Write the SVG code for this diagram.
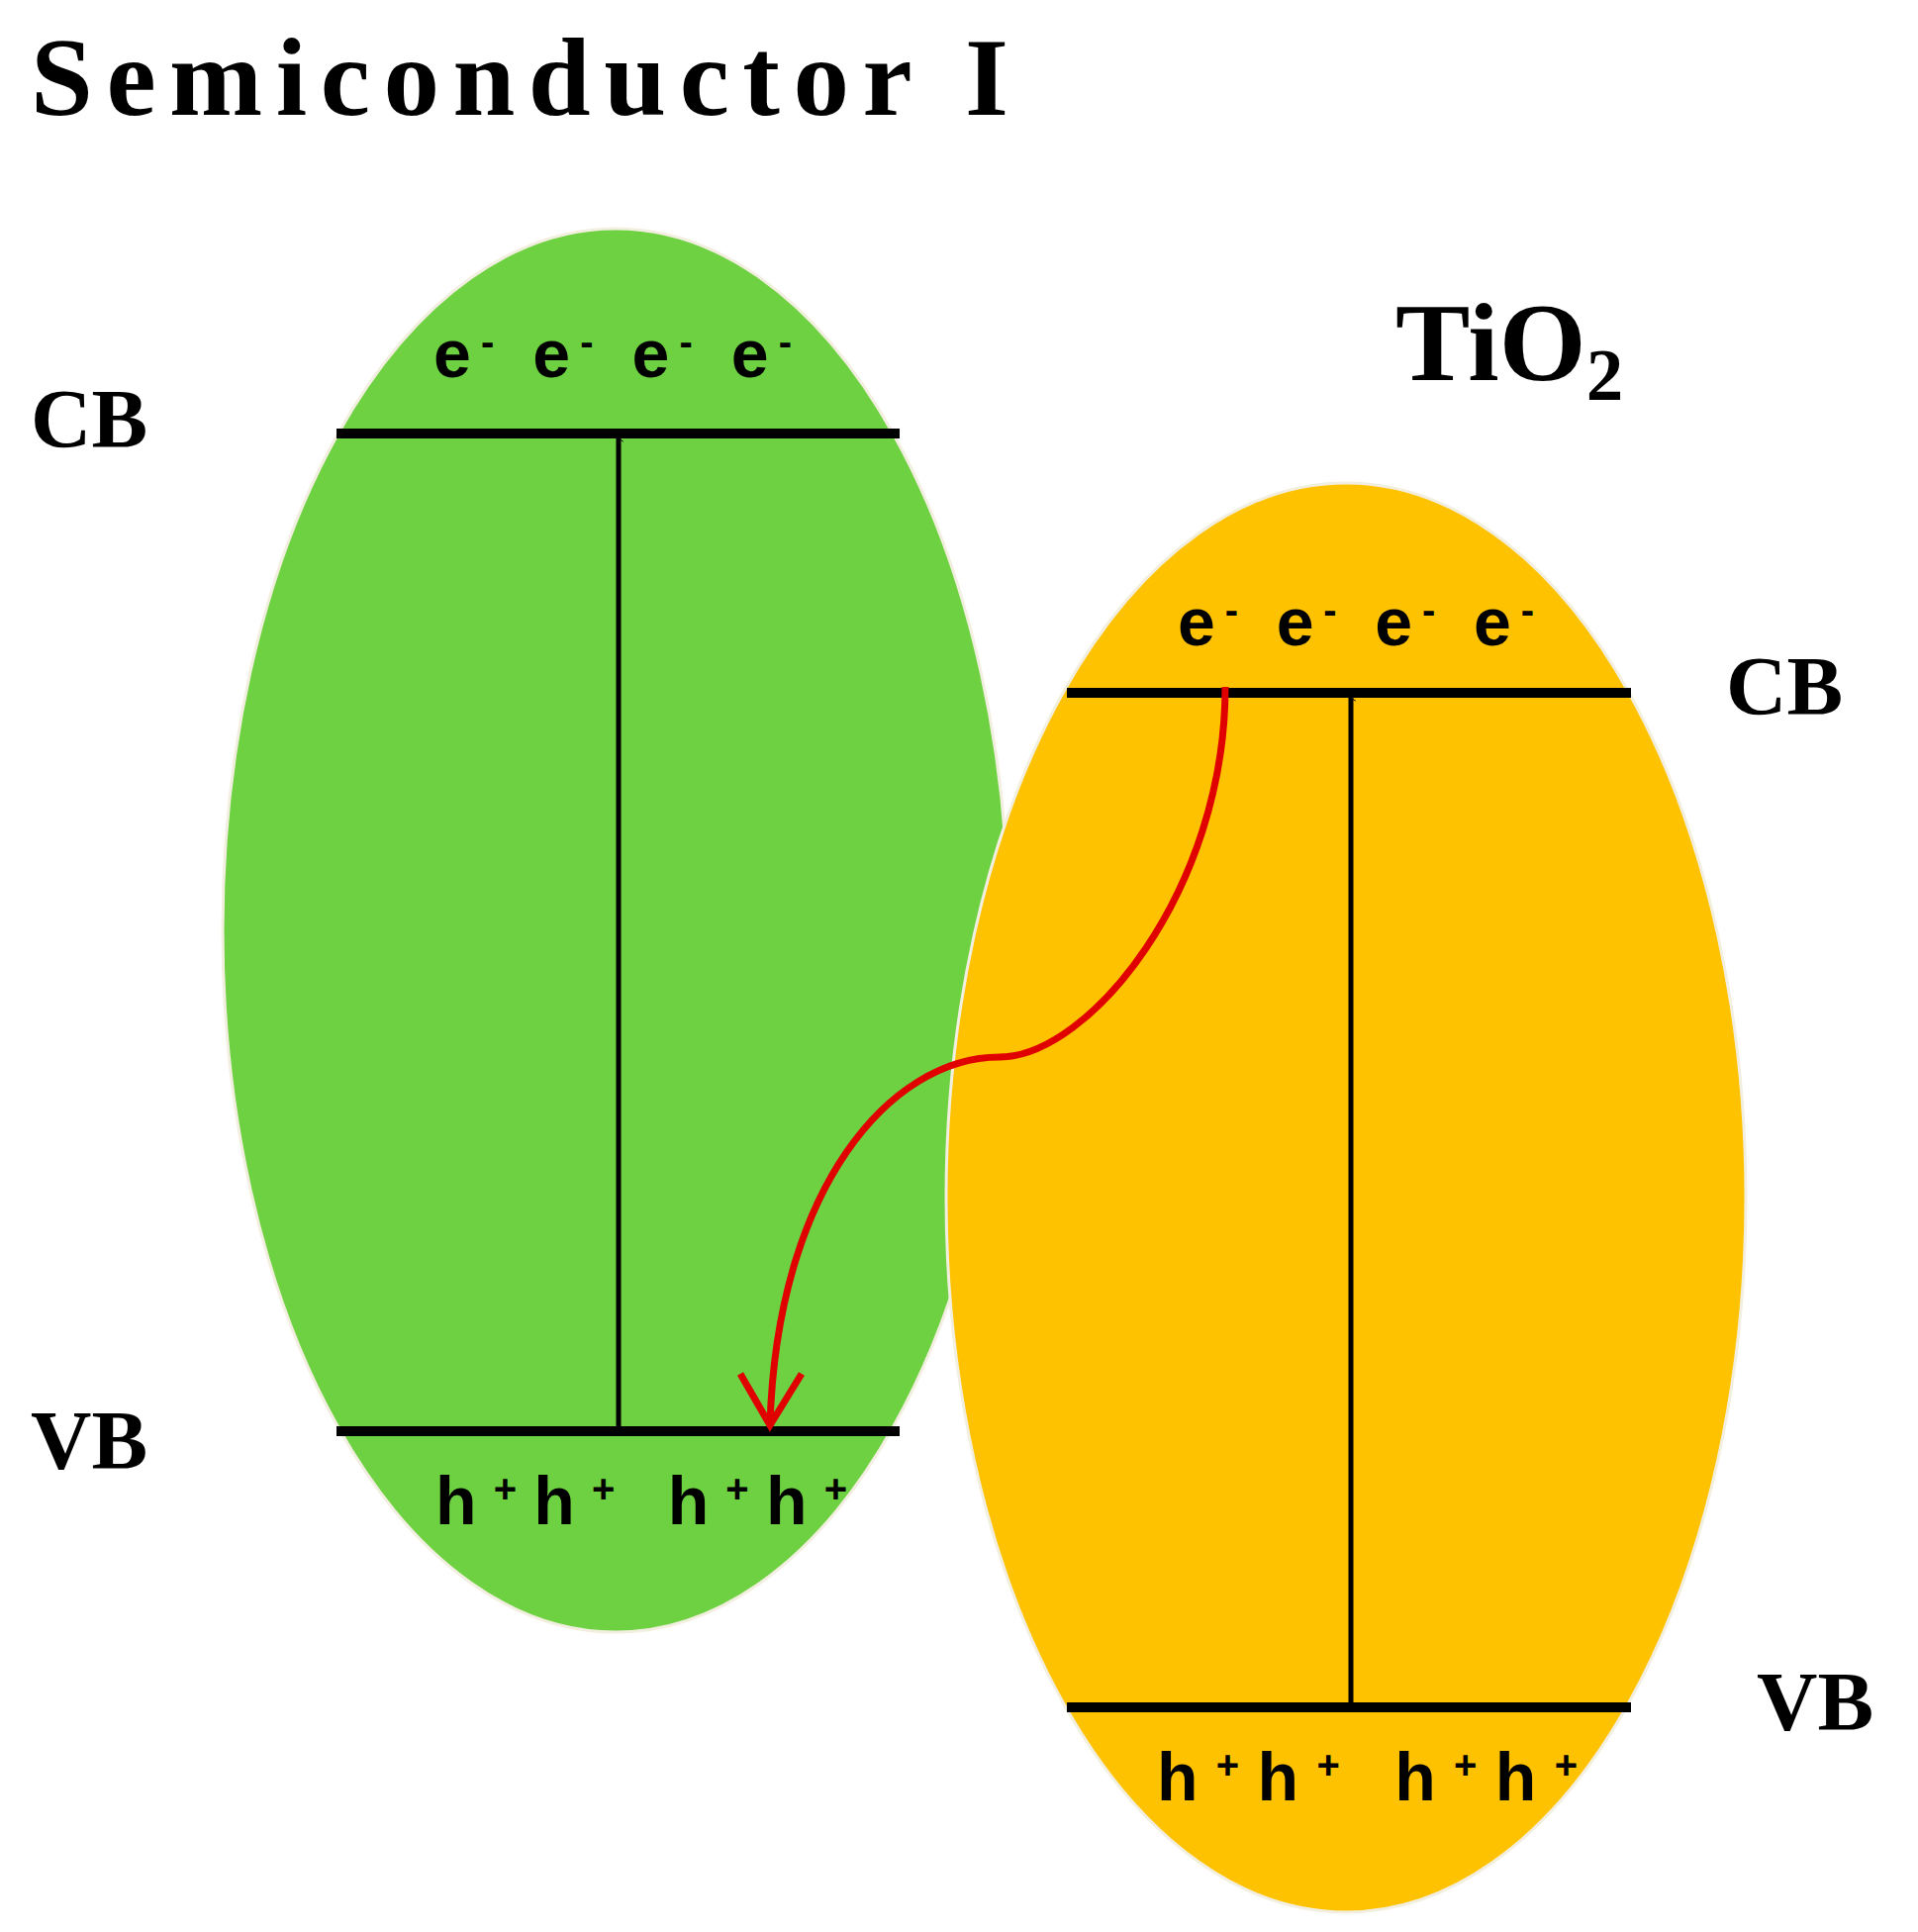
<svg xmlns="http://www.w3.org/2000/svg" width="1938" height="1952" viewBox="0 0 1938 1952">
<style>
.t{font-family:"Liberation Serif",serif;font-weight:bold;fill:#000}
.c{font-family:"Liberation Sans",Arial,sans-serif;font-weight:bold;fill:#000;font-size:68px}
.band{stroke:#000;stroke-width:10}
.ar{stroke:#000;stroke-width:5;fill:none}
</style>
<defs>
<marker id="ah" viewBox="0 0 20 20" refX="10" refY="2" markerWidth="8" markerHeight="8" markerUnits="userSpaceOnUse" orient="auto"><path d="M2 14 L10 2 L18 14" fill="none" stroke="#000" stroke-width="2.5"/></marker>
</defs>
<rect width="1938" height="1952" fill="#fff"/>
<text class="t" x="31" y="116" font-size="113" textLength="988">Semiconductor I</text>
<g id="semi">
<ellipse cx="622" cy="940" rx="397" ry="709" fill="#6dd142" stroke="#f3efe0" stroke-width="3"/>
<line class="band" x1="340" y1="438" x2="909" y2="438"/>
<line class="band" x1="340" y1="1446" x2="909" y2="1446"/>
<text class="c" x="438" y="381" textLength="362">e<tspan dy="-22" font-size="40">-</tspan><tspan dy="22"> e</tspan><tspan dy="-22" font-size="40">-</tspan><tspan dy="22"> e</tspan><tspan dy="-22" font-size="40">-</tspan><tspan dy="22"> e</tspan><tspan dy="-22" font-size="40">-</tspan></text>
<text class="c" x="440" y="1540" textLength="416">h<tspan dy="-22" font-size="40">+</tspan><tspan dy="22">h</tspan><tspan dy="-22" font-size="40">+</tspan><tspan dy="22"> h</tspan><tspan dy="-22" font-size="40">+</tspan><tspan dy="22">h</tspan><tspan dy="-22" font-size="40">+</tspan></text>
</g>
<g id="tio2">
<ellipse cx="1360" cy="1210" rx="404" ry="722" fill="#fec200" stroke="#f3efe0" stroke-width="3"/>
<line class="band" x1="1078" y1="700" x2="1648" y2="700"/>
<line class="band" x1="1078" y1="1725" x2="1648" y2="1725"/>
<text class="c" x="1190" y="652" textLength="360">e<tspan dy="-22" font-size="40">-</tspan><tspan dy="22"> e</tspan><tspan dy="-22" font-size="40">-</tspan><tspan dy="22"> e</tspan><tspan dy="-22" font-size="40">-</tspan><tspan dy="22"> e</tspan><tspan dy="-22" font-size="40">-</tspan></text>
<text class="c" x="1169" y="1819" textLength="425">h<tspan dy="-22" font-size="40">+</tspan><tspan dy="22">h</tspan><tspan dy="-22" font-size="40">+</tspan><tspan dy="22"> h</tspan><tspan dy="-22" font-size="40">+</tspan><tspan dy="22">h</tspan><tspan dy="-22" font-size="40">+</tspan></text>
<text class="t" x="1410" y="384" font-size="113">TiO<tspan font-size="75" dy="20">2</tspan></text>
</g>
<g id="labels">
<text class="t" x="31" y="452" font-size="85">CB</text>
<text class="t" x="31" y="1484" font-size="85">VB</text>
<text class="t" x="1744" y="722" font-size="85">CB</text>
<text class="t" x="1775" y="1748" font-size="85">VB</text>
</g>
<g id="connectors">
<line class="ar" x1="625" y1="1446" x2="625" y2="443" marker-end="url(#ah)"/>
<line class="ar" x1="1365" y1="1725" x2="1365" y2="705" marker-end="url(#ah)"/>
<path d="M1238 694 C1238 900 1100 1068 1010 1068 C900 1068 785 1200 778 1440" fill="none" stroke="#e00000" stroke-width="7"/>
<path d="M748 1388 L778 1440 L810 1388" fill="none" stroke="#e00000" stroke-width="7"/>
</g>
</svg>
